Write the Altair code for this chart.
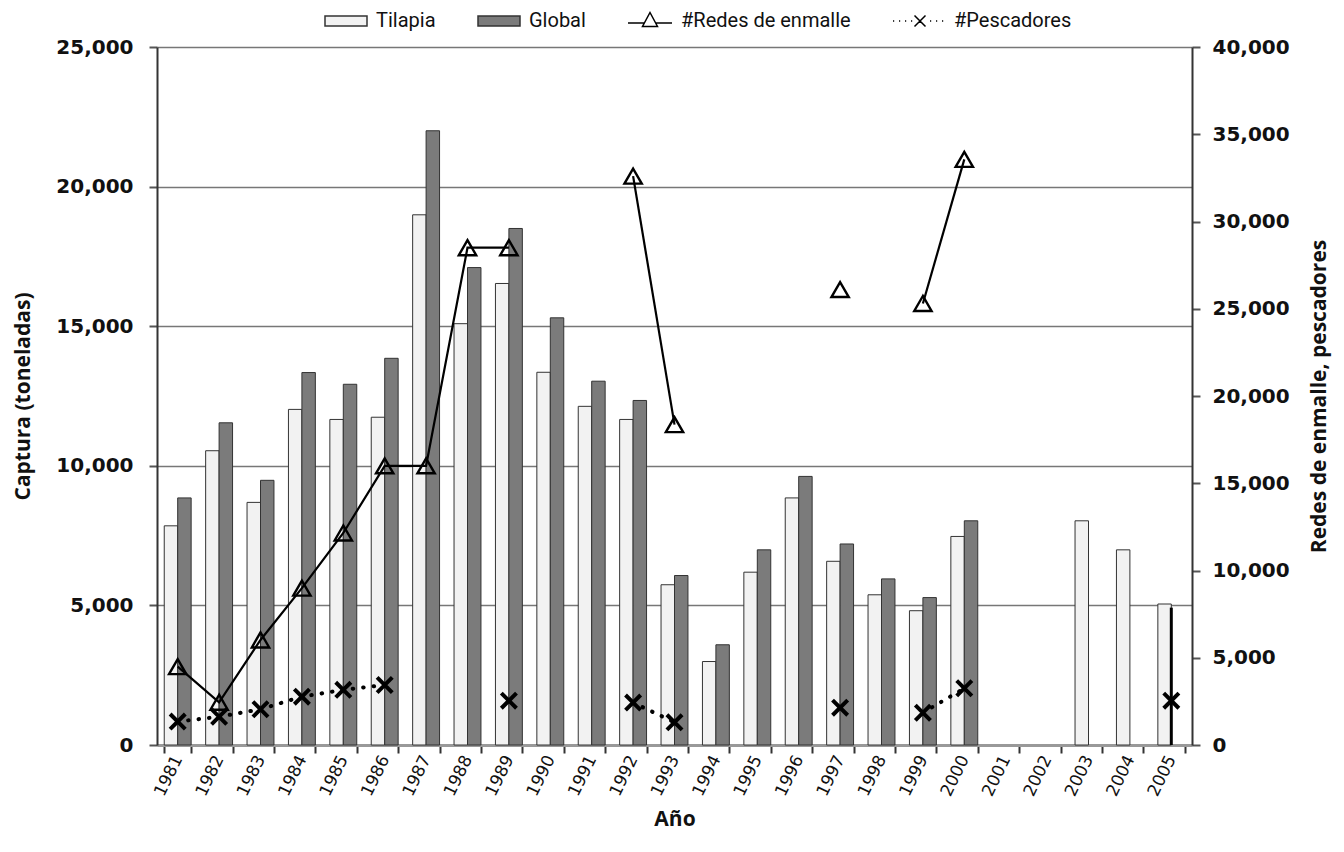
import altair as alt
import pandas as pd

# ---------------- data ----------------
years = [str(y) for y in range(1981, 2006)]

tilapia = [7850, 10540, 8690, 12020, 11660, 11740, 18990, 15090, 16530, 13350,
           12130, 11660, 5740, 2990, 6190, 8850, 6580, 5380, 4810, 7470,
           None, None, 8030, 6990, 5050]
global_catch = [8850, 11540, 9480, 13340, 12920, 13850, 22000, 17100, 18500, 15300,
                13030, 12340, 6070, 3590, 6990, 9620, 7200, 5950, 5280, 8030,
                None, None, None, None, None]

redes = [4490, 2450, 6020, 8990, 12150, 16000, 16000, 28500, 28500, None,
         None, 32600, 18360, None, None, None, 26100, None, 25300, 33560,
         None, None, None, None, None]
pescadores = [1340, 1620, 2050, 2770, 3160, 3440, None, None, 2540, None,
              None, 2430, 1300, None, None, None, 2140, None, 1850, 3250,
              None, None, None, None, 2540]

# thin black mark drawn at 2005 in the original figure
marca_anio = ["2005"]
marca_valor = [4920]

left_ticks = [0, 5000, 10000, 15000, 20000, 25000]
right_ticks = [0, 5000, 10000, 15000, 20000, 25000, 30000, 35000, 40000]

series = ["Tilapia", "Global", "#Redes de enmalle", "#Pescadores"]
series_fill = ["#f2f2f2", "#7b7b7b", "white", "white"]
series_stroke = ["#333333", "#333333", "black", "black"]
legend_paths = [
    "M-3.6,-0.5H0.6V0.5H-3.6Z",
    "M-3.6,-0.5H0.6V0.5H-3.6Z",
    "M-3.8,0.2H-2.16M-1.04,0.2H0.6M-1.6,-0.85L-0.85,0.55H-2.35Z",
    "M-4.6,0h0.12M-4.0,0h0.12M-3.4,0h0.12M-2.8,0h0.12M-0.9,0h0.12M-0.3,0h0.12M0.3,0h0.12"
    "M-2.45,-0.55L-1.35,0.55M-2.45,0.55L-1.35,-0.55",
]

# ---------------- tables ----------------
bar_rows = []
for name, vals in (("Tilapia", tilapia), ("Global", global_catch)):
    for y, v in zip(years, vals):
        if v is not None:
            bar_rows.append({"anio": y, "serie": name, "valor": v})
bars_df = pd.DataFrame(bar_rows)


def segments(vals):
    rows, seg = [], 0
    for y, v in zip(years, vals):
        if v is None:
            seg += 1
            continue
        rows.append({"anio": y, "valor": v, "tramo": seg})
    return pd.DataFrame(rows)


redes_df = segments(redes)
pesc_df = segments(pescadores)
marca_df = pd.DataFrame({"anio": marca_anio, "valor": marca_valor})
legend_df = pd.DataFrame({"serie": series})

LBL_FONT = "DejaVu Sans"
TITLE_FONT = "Open Sans"
thousands = "datum.value == 0 ? '0' : floor(datum.value / 1000) + ',000'"

x_scale = alt.Scale(domain=years, type="band", paddingInner=0.35, paddingOuter=0.175)
x_enc = alt.X(
    "anio:N", scale=x_scale,
    axis=alt.Axis(title="Año", labelAngle=296, tickBand="extent", tickSize=8,
                  tickColor="#333", tickWidth=2, domainColor="#999", domainWidth=3,
                  labelFont=LBL_FONT, labelFontSize=17, labelColor="#111",
                  labelPadding=3, titleFont=TITLE_FONT, titleFontSize=21,
                  titleFontWeight="bold", titlePadding=10, titleColor="#111"),
)
x_plain = alt.X("anio:N", scale=x_scale)

fill_scale = alt.Scale(domain=series, range=series_fill)

left_axis = alt.Axis(
    title="Captura (toneladas)", values=left_ticks, labelExpr=thousands,
    grid=True, gridColor="#777", gridWidth=1.5, tickSize=8,
    tickColor="#555", tickWidth=2, domainColor="#333", domainWidth=2,
    labelFont=LBL_FONT, labelFontSize=20, labelFontWeight="bold", labelColor="#111",
    labelPadding=16, titleFont=TITLE_FONT, titleFontSize=21, titleFontWeight="bold",
    titleColor="#111", titlePadding=22,
)
right_axis = alt.Axis(
    title="Redes de enmalle, pescadores", orient="right", values=right_ticks,
    labelExpr=thousands, grid=False, tickSize=8, tickColor="#555", tickWidth=2,
    domainColor="#333", domainWidth=2, labelFont=LBL_FONT, labelFontSize=20,
    labelFontWeight="bold", labelColor="#111", labelPadding=12,
    titleFont=TITLE_FONT, titleFontSize=21, titleFontWeight="bold",
    titleColor="#111", titlePadding=40, titleAngle=270,
)

legend_spec = alt.Legend(
    title=None, orient="none", legendX=193, legendY=-37, direction="horizontal",
    columns=4, columnPadding=39, symbolSize=400, symbolStrokeColor="black",
    symbolStrokeWidth=1.5, symbolOpacity=1, labelLimit=400,
    labelFont="Roboto", labelFontSize=20, labelColor="#111", labelOffset=4, padding=0,
)

bars = alt.Chart(bars_df).mark_bar(stroke="#333", strokeWidth=1).encode(
    x=x_enc,
    xOffset=alt.XOffset("serie:N", scale=alt.Scale(domain=["Tilapia", "Global"], paddingInner=0)),
    y=alt.Y("valor:Q", scale=alt.Scale(domain=[0, 25000], nice=False), axis=left_axis),
    fill=alt.Fill("serie:N", scale=fill_scale, legend=legend_spec),
)

marca = alt.Chart(marca_df).mark_rule(color="black", strokeWidth=3).encode(
    x=x_plain,
    y=alt.Y("valor:Q"),
    y2=alt.datum(0),
)

left_group = alt.layer(bars, marca)

y_right = alt.Y("valor:Q", scale=alt.Scale(domain=[0, 40000], nice=False), axis=right_axis)

redes_line = alt.Chart(redes_df).mark_line(color="black", strokeWidth=2.2).encode(
    x=x_plain, y=y_right, detail="tramo:N")
redes_pts = alt.Chart(redes_df).mark_point(
    shape="triangle-up", size=300, filled=False, stroke="black", strokeWidth=2.4, opacity=1
).encode(x=x_plain, y=alt.Y("valor:Q"))

pesc_line = alt.Chart(pesc_df).mark_line(
    color="black", strokeWidth=4, strokeDash=[0.5, 10], strokeCap="round"
).encode(x=x_plain, y=alt.Y("valor:Q"), detail="tramo:N")
pesc_pts = alt.Chart(pesc_df).mark_point(
    shape="M-1,-1L1,1M-1,1L1,-1", size=230, filled=False, stroke="black",
    strokeWidth=4, opacity=1
).encode(x=x_plain, y=alt.Y("valor:Q"))

legend_layer = alt.Chart(legend_df).mark_point(
    filled=True, opacity=0
).encode(
    shape=alt.Shape("serie:N", scale=alt.Scale(domain=series, range=legend_paths), legend=legend_spec),
    fill=alt.Fill("serie:N", scale=fill_scale, legend=legend_spec),
    stroke=alt.Stroke("serie:N", scale=alt.Scale(domain=series, range=series_stroke), legend=legend_spec),
)

right_group = alt.layer(redes_line, pesc_line, redes_pts, pesc_pts, legend_layer)

chart = alt.layer(left_group, right_group).resolve_scale(y="independent").properties(
    width=1035, height=698,
    autosize=alt.AutoSizeParams(type="none"),
    padding={"left": 149, "top": 39, "right": 144, "bottom": 95},
    background="white",
).configure_view(stroke=None)

chart.save("out.html", embed_options={"renderer": "svg", "actions": False})
